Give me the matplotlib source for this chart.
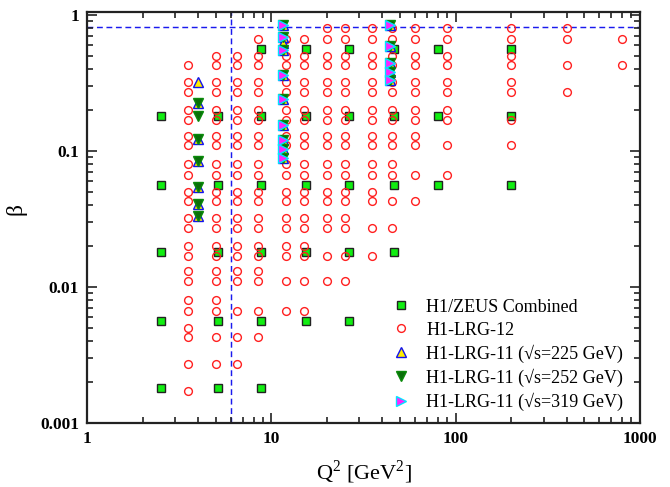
import matplotlib
matplotlib.use("Agg")
import matplotlib.pyplot as plt
from matplotlib.ticker import FixedLocator, FixedFormatter, LogLocator, NullFormatter

plt.rcParams['font.family'] = ['Liberation Serif', 'DejaVu Serif']
plt.rcParams['mathtext.fontset'] = 'custom'
plt.rcParams['mathtext.rm'] = 'Liberation Serif'

# ---------------- data ----------------
# H1/ZEUS Combined
comb_q2 = [2.5, 5.1, 8.8, 15.3, 26.5, 46, 80, 200]
comb_beta_2p5 = [0.18, 0.056, 0.018, 0.0056, 0.0018]
comb_beta_5p1 = [0.18, 0.056, 0.018, 0.0056, 0.0018]
comb_beta_8p8 = [0.56, 0.18, 0.056, 0.018, 0.0056, 0.0018]
comb_beta_15 = [0.56, 0.18, 0.056, 0.018, 0.0056]
comb_beta_26 = [0.56, 0.18, 0.056, 0.018, 0.0056]
comb_beta_46 = [0.56, 0.18, 0.056, 0.018]
comb_beta_80 = [0.56, 0.18, 0.056]
comb_beta_200 = [0.56, 0.18, 0.056]
comb_betas = [comb_beta_2p5, comb_beta_5p1, comb_beta_8p8, comb_beta_15,
              comb_beta_26, comb_beta_46, comb_beta_80, comb_beta_200]

# H1-LRG-12
lrg12_q2 = [3.5, 5, 6.5, 8.5, 12, 15, 20, 25, 35, 45, 60, 90, 200, 400, 800]
lrg12_b_3p5 = [0.43, 0.32, 0.27, 0.2, 0.17, 0.13, 0.11, 0.08, 0.067, 0.05, 0.043,
               0.032, 0.027, 0.02, 0.017, 0.013, 0.011, 0.008, 0.0067, 0.005,
               0.0043, 0.0027, 0.0017]
lrg12_b_5 = [0.5, 0.43, 0.32, 0.27, 0.2, 0.17, 0.13, 0.11, 0.08, 0.067, 0.05, 0.043,
             0.032, 0.027, 0.02, 0.017, 0.013, 0.011, 0.008, 0.0067, 0.0043, 0.0027]
lrg12_b_6p5 = [0.5, 0.43, 0.32, 0.27, 0.2, 0.17, 0.13, 0.11, 0.08, 0.067, 0.05, 0.043,
               0.032, 0.027, 0.02, 0.017, 0.013, 0.011, 0.0067, 0.0043, 0.0027]
lrg12_b_8p5 = [0.67, 0.5, 0.43, 0.32, 0.27, 0.2, 0.17, 0.13, 0.11, 0.08, 0.067, 0.05,
               0.043, 0.032, 0.027, 0.02, 0.017, 0.013, 0.011, 0.0067, 0.0043]
lrg12_b_12 = [0.67, 0.5, 0.43, 0.32, 0.27, 0.2, 0.17, 0.13, 0.11, 0.08, 0.067, 0.05,
              0.043, 0.032, 0.027, 0.02, 0.017, 0.011, 0.0067]
lrg12_b_15 = [0.67, 0.5, 0.43, 0.32, 0.27, 0.2, 0.17, 0.13, 0.11, 0.08, 0.067, 0.05,
              0.043, 0.032, 0.027, 0.02, 0.017, 0.011, 0.0067]
lrg12_b_20 = [0.8, 0.67, 0.5, 0.43, 0.32, 0.27, 0.2, 0.17, 0.13, 0.11, 0.08, 0.067,
              0.05, 0.043, 0.032, 0.027, 0.017, 0.011]
lrg12_b_25 = [0.8, 0.67, 0.5, 0.43, 0.32, 0.27, 0.2, 0.17, 0.13, 0.11, 0.08, 0.067,
              0.05, 0.043, 0.032, 0.027, 0.017, 0.011]
lrg12_b_35 = [0.8, 0.67, 0.5, 0.43, 0.32, 0.27, 0.2, 0.17, 0.13, 0.11, 0.08, 0.067,
              0.05, 0.043, 0.027, 0.017]
lrg12_b_45 = [0.8, 0.67, 0.5, 0.43, 0.32, 0.27, 0.2, 0.17, 0.13, 0.11, 0.08, 0.067,
              0.043, 0.027]
lrg12_b_60 = [0.8, 0.67, 0.5, 0.43, 0.32, 0.27, 0.2, 0.17, 0.13, 0.11, 0.067, 0.043]
lrg12_b_90 = [0.8, 0.67, 0.5, 0.43, 0.32, 0.27, 0.2, 0.17, 0.11, 0.067]
lrg12_b_200 = [0.8, 0.67, 0.5, 0.43, 0.32, 0.27, 0.17, 0.11]
lrg12_b_400 = [0.8, 0.67, 0.43, 0.27]
lrg12_b_800 = [0.67, 0.43]
lrg12_betas = [lrg12_b_3p5, lrg12_b_5, lrg12_b_6p5, lrg12_b_8p5, lrg12_b_12,
               lrg12_b_15, lrg12_b_20, lrg12_b_25, lrg12_b_35, lrg12_b_45,
               lrg12_b_60, lrg12_b_90, lrg12_b_200, lrg12_b_400, lrg12_b_800]

# H1-LRG-11
lrg11_q2 = [4, 11.5, 44]
lrg11_225_b_4 = [0.32, 0.224, 0.122, 0.085, 0.054, 0.041, 0.033]
lrg11_225_b_11 = [0.84, 0.69, 0.62, 0.556, 0.364, 0.24, 0.155, 0.121, 0.104, 0.089]
lrg11_225_b_44 = [0.85, 0.589, 0.446, 0.385, 0.331]
lrg11_252_b_4 = [0.224, 0.181, 0.122, 0.085, 0.054, 0.041, 0.033]
lrg11_252_b_11 = [0.84, 0.69, 0.556, 0.364, 0.24, 0.155, 0.121, 0.104, 0.089]
lrg11_252_b_44 = [0.85, 0.589, 0.446, 0.385, 0.331]
lrg11_319_b_4 = []
lrg11_319_b_11 = [0.84, 0.69, 0.556, 0.364, 0.24, 0.155, 0.121, 0.104, 0.089]
lrg11_319_b_44 = [0.85, 0.589, 0.446, 0.385, 0.331]

# reference lines
beta_line = 0.82
q2_line = 6.0

legend_labels = ["H1/ZEUS Combined", "H1-LRG-12",
                 "H1-LRG-11 (\u221as=225 GeV)", "H1-LRG-11 (\u221as=252 GeV)",
                 "H1-LRG-11 (\u221as=319 GeV)"]

x_ticks = [1, 10, 100, 1000]
x_ticklabels = ["1", "10", "100", "1000"]
y_ticks = [0.001, 0.01, 0.1, 1]
y_ticklabels = ["0.001", "0.01", "0.1", "1"]


def flatten(qs, bs):
    xs, ys = [], []
    for q, bl in zip(qs, bs):
        for b in bl:
            xs.append(q)
            ys.append(b)
    return xs, ys


# ---------------- plot ----------------
fig = plt.figure(figsize=(6.7, 4.87), dpi=100)
ax = fig.add_axes([0.1303, 0.132, 0.8247, 0.8427])

ax.axhline(beta_line, color='#1a1aee', ls=(0, (4, 2.5)), lw=1.05, zorder=1)
ax.axvline(q2_line, color='#1a1aee', ls=(0, (4, 2.5)), lw=1.05, zorder=1)

cx, cy = flatten(comb_q2, comb_betas)
h1, = ax.plot(cx, cy, ls='none', marker='s', ms=5.2, mfc='#11ee11', mec='#222222',
              mew=1.0, zorder=3, label=legend_labels[0])

lx, ly = flatten(lrg12_q2, lrg12_betas)
h2, = ax.plot(lx, ly, ls='none', marker='o', ms=5.6, mfc='none', mec='#ff2020',
              mew=1.0, zorder=4, label=legend_labels[1])

ux, uy = flatten(lrg11_q2, [lrg11_225_b_4, lrg11_225_b_11, lrg11_225_b_44])
h3, = ax.plot(ux, uy, ls='none', marker='^', ms=6.5, mfc='#ffee00', mec='#1111ee',
              mew=1.0, zorder=5, label=legend_labels[2])

dx, dy = flatten(lrg11_q2, [lrg11_252_b_4, lrg11_252_b_11, lrg11_252_b_44])
h4, = ax.plot(dx, dy, ls='none', marker='v', ms=6.5, mfc='#0a6e0a', mec='#0a8a0a',
              mew=1.0, zorder=6, label=legend_labels[3])

rx, ry = flatten(lrg11_q2, [lrg11_319_b_4, lrg11_319_b_11, lrg11_319_b_44])
h5, = ax.plot(rx, ry, ls='none', marker='>', ms=6.5, mfc='#ff22ff', mec='#00e5ff',
              mew=1.0, zorder=7, label=legend_labels[4])

ax.set_xscale('log')
ax.set_yscale('log')
ax.set_xlim(1, 1000)
ax.set_ylim(0.001, 1.05)

ax.xaxis.set_major_locator(FixedLocator(x_ticks))
ax.xaxis.set_major_formatter(FixedFormatter(x_ticklabels))
ax.yaxis.set_major_locator(FixedLocator(y_ticks))
ax.yaxis.set_major_formatter(FixedFormatter(y_ticklabels))
ax.xaxis.set_minor_locator(LogLocator(base=10, subs=range(2, 10)))
ax.yaxis.set_minor_locator(LogLocator(base=10, subs=range(2, 10)))
ax.xaxis.set_minor_formatter(NullFormatter())
ax.yaxis.set_minor_formatter(NullFormatter())

ax.tick_params(which='both', direction='in', top=True, right=True, width=1.2,
               color='#222222')
ax.tick_params(which='major', length=7, labelsize=12.5, pad=6)
ax.tick_params(which='minor', length=4)
for lab in ax.get_xticklabels() + ax.get_yticklabels():
    lab.set_fontweight('bold')

for s in ax.spines.values():
    s.set_linewidth(1.6)
    s.set_color('#222222')

ax.set_xlabel(r"Q$^{2}$ [GeV$^{2}$]", fontsize=16)
ax.xaxis.set_label_coords(0.5, -0.087)
ax.set_ylabel("\u03b2", fontsize=17)
ax.yaxis.set_label_coords(-0.11, 0.52)

leg = ax.legend(handles=[h1, h2, h3, h4, h5], loc='lower left',
                bbox_to_anchor=(0.545, 0.02), frameon=False, fontsize=13,
                numpoints=1, handlelength=1.0, handletextpad=0.9,
                labelspacing=0.32, borderaxespad=0, borderpad=0.2)

fig.savefig("out.png", dpi=100)
